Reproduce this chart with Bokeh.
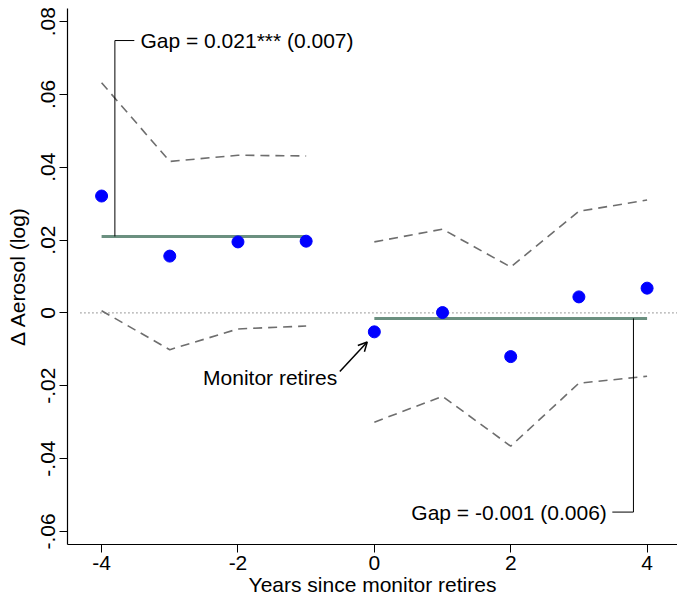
from bokeh.plotting import figure
from bokeh.models import Range1d, FixedTicker, CustomJSTickFormatter, Label, Arrow, OpenHead
from bokeh.embed import file_html
from bokeh.resources import INLINE

# ---- data ----
years_pre = [-4, -3, -2, -1]
years_post = [0, 1, 2, 3, 4]
coef_pre = [0.0321, 0.0156, 0.0195, 0.0197]
coef_post = [-0.0052, 0.0001, -0.0120, 0.0044, 0.0068]
upper_pre = [0.0632, 0.0416, 0.0433, 0.0431]
lower_pre = [0.0006, -0.0101, -0.0044, -0.0036]
upper_post = [0.0195, 0.0230, 0.0126, 0.0279, 0.0310]
lower_post = [-0.0300, -0.0229, -0.0366, -0.0193, -0.0174]
gap_pre = 0.021
gap_post = -0.0015
gap_labels = ["Gap = 0.021*** (0.007)", "Gap = -0.001 (0.006)"]
event_label = "Monitor retires"
x_ticks = [-4, -2, 0, 2, 4]
y_ticks = [-0.06, -0.04, -0.02, 0.0, 0.02, 0.04, 0.06, 0.08]

FONT = "Liberation Sans"
FS = "21px"

p = figure(width=677, height=598, output_backend="svg", toolbar_location=None,
           x_range=Range1d(-4.5, 4.446), y_range=Range1d(-0.0636, 0.0836),
           min_border_left=67, min_border_top=8, min_border_right=0, min_border_bottom=53)
p.outline_line_color = None
p.xgrid.grid_line_color = None
p.ygrid.grid_line_color = None
p.background_fill_color = "white"

for ax in (p.xaxis[0], p.yaxis[0]):
    ax.axis_line_color = "black"
    ax.axis_line_width = 1.2
    ax.major_tick_line_color = "black"
    ax.major_tick_out = 8
    ax.major_tick_in = 0
    ax.minor_tick_line_color = None
    ax.major_label_text_font = FONT
    ax.major_label_text_font_size = FS
    ax.major_label_text_color = "black"
    ax.axis_label_text_font = FONT
    ax.axis_label_text_font_size = FS
    ax.axis_label_text_font_style = "normal"
    ax.axis_label_text_color = "black"

p.xaxis.ticker = FixedTicker(ticks=x_ticks)
p.xaxis.formatter = CustomJSTickFormatter(code="return tick.toFixed(0);")
p.xaxis.axis_label = "Years since monitor retires"
p.xaxis.major_label_standoff = 3
p.xaxis.axis_label_standoff = 0

p.yaxis.ticker = FixedTicker(ticks=y_ticks)
p.yaxis.formatter = CustomJSTickFormatter(code="""
    if (Math.abs(tick) < 1e-9) { return '0'; }
    return tick.toFixed(2).replace('0.', '.');
""")
p.yaxis.major_label_orientation = "vertical"
p.yaxis.major_label_standoff = 4
p.yaxis.axis_label = "\u0394 Aerosol (log)"
p.yaxis.axis_label_standoff = 10

# zero reference line
p.line([-4.31, 4.5], [0, 0], line_color="#666666", line_width=1.2, line_dash="1 3")

# confidence bounds
for xs, ys in ((years_pre, upper_pre), (years_pre, lower_pre),
               (years_post, upper_post), (years_post, lower_post)):
    p.line(xs, ys, line_color="#6e6e6e", line_width=1.6, line_dash="9 6")

# mean gap lines
gap_color = "#6b9080"
p.line([min(years_pre), max(years_pre)], [gap_pre, gap_pre], line_color=gap_color, line_width=3)
p.line([min(years_post), max(years_post)], [gap_post, gap_post], line_color=gap_color, line_width=3)

# point estimates
p.scatter(years_pre, coef_pre, size=12, fill_color="#0000ff", line_color="#0000ff")
p.scatter(years_post, coef_post, size=12, fill_color="#0000ff", line_color="#0000ff")

# gap brackets and labels
b1x, b1y, b1e = -3.805, 0.0748, -3.52
p.line([b1x, b1x, b1e], [gap_pre, b1y, b1y], line_color="black", line_width=1)
p.add_layout(Label(x=-3.43, y=b1y, text=gap_labels[0], text_font=FONT, text_font_size=FS,
                   text_baseline="middle", text_align="left", text_color="black"))

b2x, b2y, b2e = 3.80, -0.0547, 3.49
p.line([b2x, b2x, b2e], [gap_post, b2y, b2y], line_color="black", line_width=1)
p.add_layout(Label(x=3.41, y=b2y, text=gap_labels[1], text_font=FONT, text_font_size=FS,
                   text_baseline="middle", text_align="right", text_color="black"))

# event annotation
p.add_layout(Label(x=-0.544, y=-0.0178, text=event_label, text_font=FONT, text_font_size=FS,
                   text_baseline="middle", text_align="right", text_color="black"))
p.add_layout(Arrow(x_start=-0.506, y_start=-0.0161, x_end=-0.104, y_end=-0.0080,
                   line_color="black", line_width=1.5,
                   end=OpenHead(size=9, line_color="black", line_width=1.5)))

open("out.html", "w").write(file_html(p, INLINE))
